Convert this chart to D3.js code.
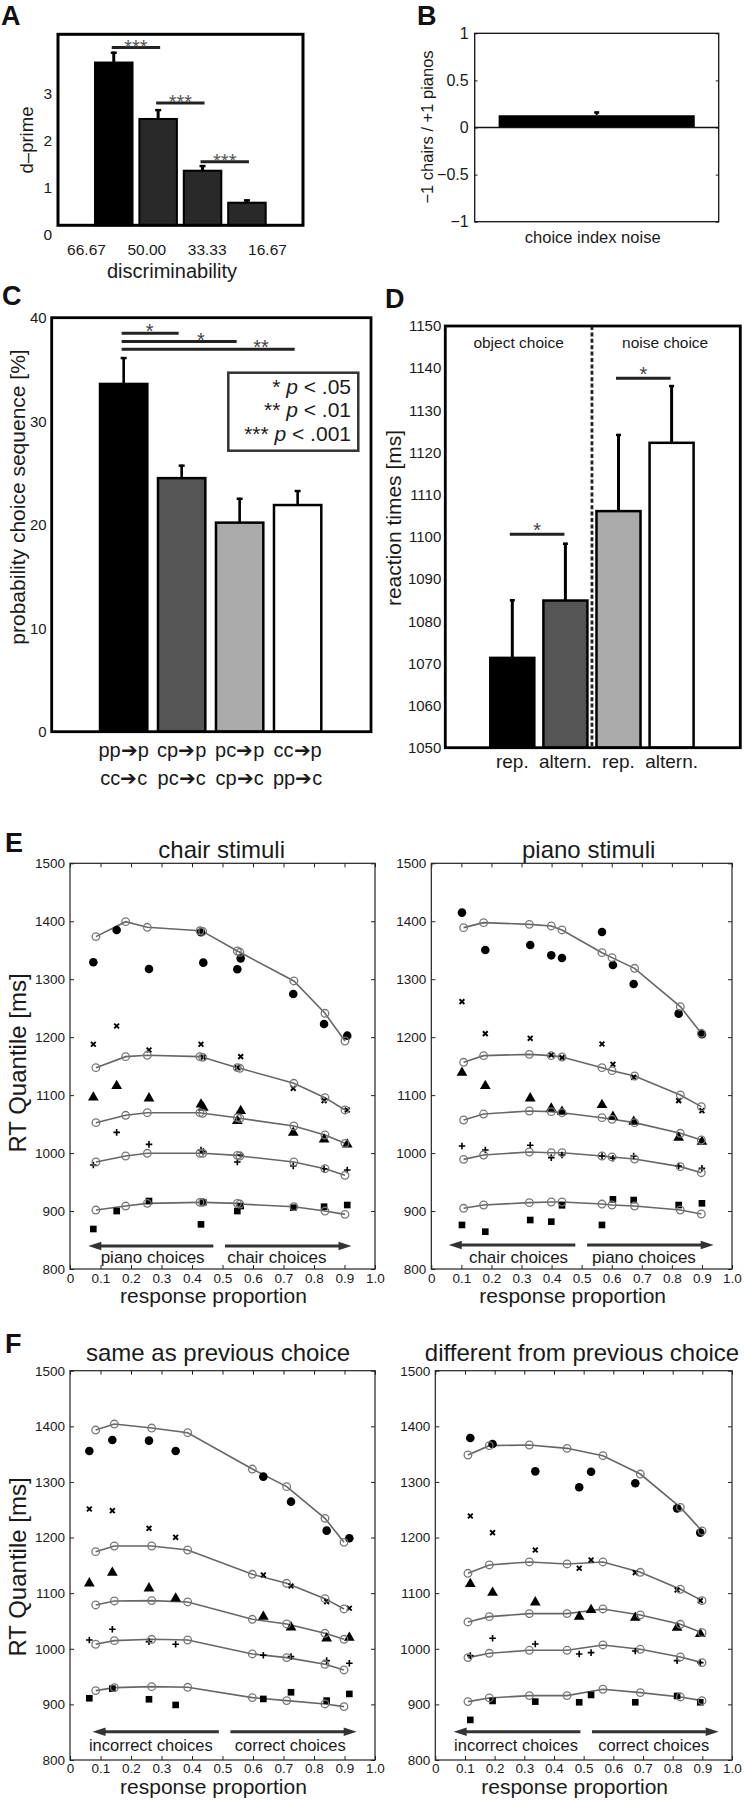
<!DOCTYPE html>
<html><head><meta charset="utf-8">
<script src="https://cdn.jsdelivr.net/npm/d3@7"></script>
<style>
body{margin:0;background:#fff}
svg{display:block}
</style></head><body>
<svg id="fig" width="744" height="1800"></svg>
<script>
// ---------------- Panel A ----------------
const aCategories = ["66.67", "50.00", "33.33", "16.67"];
const aValues = [3.66, 2.46, 1.36, 0.68];
const aErrors = [0.23, 0.21, 0.12, 0.07];
const aTicks = [0, 1, 2, 3];
const aSig = [[0, 1, 3.98], [1, 2, 2.80], [2, 3, 1.55]];

// ---------------- Panel B ----------------
const bCategories = ["choice index noise"];
const bValues = [0.13];
const bErrors = [0.04];
const bTicks = [-1, -0.5, 0, 0.5, 1];

// ---------------- Panel C ----------------
const cLabelsTop = ["pp➔p", "cp➔p", "pc➔p", "cc➔p"];
const cLabelsBottom = ["cc➔c", "pc➔c", "cp➔c", "pp➔c"];
const cValues = [33.6, 24.5, 20.2, 21.9];
const cErrors = [2.6, 1.3, 2.4, 1.45];
const cTicks = [0, 10, 20, 30, 40];
const cSig = [[0, 1, 38.5, "*", 0.45], [0, 2, 37.7, "*", 1.33], [0, 3, 36.95, "**", 2.37]];
const cLegendStars = ["*", "**", "***"];
const cLegendText = [" < .05", " < .01", " < .001"];

// ---------------- Panel D ----------------
const dConditions = ["object-rep", "object-alt", "noise-rep", "noise-alt"];
const dLabels = ["rep.", "altern.", "rep.", "altern."];
const dValues = [1071.3, 1084.9, 1106.1, 1122.3];
const dErrors = [13.9, 13.7, 18.3, 13.7];
const dTicks = [1050, 1060, 1070, 1080, 1090, 1100, 1110, 1120, 1130, 1140, 1150];
const dSig = [[0, 1, 1100.6], [2, 3, 1137.6]];
const dGroups = ["object choice", "noise choice"];

// ---------------- Panels E / F (quantile probability plots) ----------------
const qpYTicks = [800, 900, 1000, 1100, 1200, 1300, 1400, 1500];
const qpXTicks = [0, 0.1, 0.2, 0.3, 0.4, 0.5, 0.6, 0.7, 0.8, 0.9, 1.0];
// quantile order: .9 (circle), .7 (x), .5 (triangle), .3 (plus), .1 (square)

const eChairModelX = [0.085, 0.1825, 0.2535, 0.426, 0.435, 0.5486, 0.557, 0.734, 0.836, 0.9016];
const eChairModelQ9 = [1373.5, 1399.3, 1389.6, 1383.5, 1382.5, 1348.7, 1346.4, 1297, 1241.2, 1193.4];
const eChairModelQ7 = [1147.4, 1166.4, 1168.7, 1166.4, 1165.2, 1147.4, 1146.3, 1120.4, 1095.6, 1074.4];
const eChairModelQ5 = [1052.5, 1065.2, 1069.7, 1069.7, 1068.6, 1061.1, 1060, 1046.7, 1031.2, 1016.8];
const eChairModelQ3 = [984.6, 995, 999.6, 999.6, 999.6, 996.1, 995, 984.6, 973.1, 961.6];
const eChairModelQ1 = [901.7, 908.6, 913.3, 915, 915, 913.3, 912.1, 907.5, 900, 894.3];
const eChairDataX = [0.0765, 0.153, 0.259, 0.4295, 0.437, 0.5486, 0.5596, 0.732, 0.833, 0.909];
const eChairDataQ9 = [1329.2, 1385, 1317.7, 1381, 1328.6, 1317.1, 1336, 1274.5, 1222.8, 1202.6];
const eChairDataQ7 = [1187.7, 1219.3, 1177.9, 1187.7, 1165.2, 1147.4, 1166.4, 1111.7, 1090.5, 1074.4];
const eChairDataQ5 = [1096.2, 1115.8, 1094.5, 1084.1, 1078.4, 1055.4, 1072.6, 1035.2, 1023.7, 1015.1];
const eChairDataQ3 = [979.4, 1035.8, 1015.1, 1005.3, 1002.5, 984.6, 996.7, 977.7, 973.1, 970.8];
const eChairDataQ1 = [869, 900, 917.3, 877, 915, 900, 908.6, 905.8, 907.5, 910.4];

const ePianoModelX = [0.1075, 0.174, 0.326, 0.399, 0.4346, 0.5676, 0.601, 0.676, 0.828, 0.898];
const ePianoModelQ9 = [1389, 1397.6, 1394.7, 1391.9, 1385, 1345.8, 1337.2, 1318.8, 1252.7, 1206.7];
const ePianoModelQ7 = [1156.6, 1168.1, 1170.4, 1168.1, 1165.8, 1147.4, 1142.2, 1133, 1100.2, 1080.1];
const ePianoModelQ5 = [1057.1, 1067.4, 1072.6, 1071.5, 1069.7, 1061.1, 1058.3, 1052.5, 1034.1, 1022.6];
const ePianoModelQ3 = [989.2, 996.7, 1001.9, 1000.7, 1000.7, 995, 993.3, 989.8, 976.6, 966.2];
const ePianoModelQ1 = [904.7, 910.4, 914.5, 915.6, 915.6, 912.1, 910.4, 908.7, 901.8, 894.9];
const ePianoDataX = [0.102, 0.1796, 0.329, 0.399, 0.4346, 0.5676, 0.604, 0.673, 0.8226, 0.9];
const ePianoDataQ9 = [1414.9, 1350.4, 1359.1, 1341.2, 1336.6, 1381.5, 1324.6, 1291.8, 1240.6, 1205];
const ePianoDataQ7 = [1261.3, 1206.1, 1198, 1169.3, 1164.7, 1188.3, 1153.2, 1130.7, 1090.5, 1073.2];
const ePianoDataQ5 = [1138.8, 1115.8, 1094.5, 1077.2, 1071.5, 1083, 1062.8, 1054.2, 1026.6, 1019.7];
const ePianoDataQ3 = [1012.2, 1005.3, 1013.4, 992.1, 996.7, 995, 991, 995, 977.7, 973.7];
const ePianoDataQ1 = [876, 864.4, 884.5, 881.7, 909.9, 876, 920.2, 919, 910.4, 913.3];

const fSameModelX = [0.0842, 0.1454, 0.2678, 0.3858, 0.5978, 0.7104, 0.836, 0.8984];
const fSameModelQ9 = [1393.3, 1404.1, 1396.9, 1388.5, 1323.2, 1291.5, 1234.5, 1191.4];
const fSameModelQ7 = [1174.6, 1184.8, 1184.8, 1177.6, 1133.9, 1117.7, 1090.1, 1071.6];
const fSameModelQ5 = [1078.8, 1086, 1086.6, 1084.2, 1053, 1044.6, 1027.8, 1017];
const fSameModelQ3 = [1008.1, 1014.6, 1017, 1015.8, 990.7, 984.1, 972.1, 961.9];
const fSameModelQ1 = [924.8, 930.2, 931.9, 930.7, 912.2, 906.8, 900.8, 896];
const fSameDataX = [0.0634, 0.1388, 0.259, 0.3464, 0.6339, 0.7246, 0.8415, 0.9158];
const fSameDataQ9 = [1355.6, 1375.4, 1374.2, 1355.6, 1309.5, 1264.5, 1212.4, 1198.6];
const fSameDataQ7 = [1251.3, 1248.3, 1216.6, 1200.4, 1132.7, 1112.9, 1084.8, 1072.8];
const fSameDataQ5 = [1117.7, 1136.9, 1108.7, 1090.7, 1057.8, 1038.6, 1018.8, 1020];
const fSameDataQ3 = [1015.8, 1035, 1012.9, 1008.1, 988.3, 985.9, 978.7, 973.9];
const fSameDataQ1 = [911, 928.4, 909.2, 899, 909.8, 921.8, 906.8, 918.8];

const fDiffModelX = [0.110, 0.182, 0.317, 0.444, 0.565, 0.691, 0.826, 0.899];
const fDiffModelQ9 = [1348.4, 1365.2, 1366.4, 1360.4, 1347.2, 1314.2, 1254.3, 1211.8];
const fDiffModelQ7 = [1135.7, 1150.7, 1156.1, 1152.5, 1156.1, 1137.5, 1107, 1086.6];
const fDiffModelQ5 = [1048.2, 1057.8, 1063.2, 1063.2, 1071.6, 1060.8, 1044, 1029];
const fDiffModelQ3 = [984.1, 991.9, 997.3, 997.3, 1006.9, 999.1, 985.3, 975.1];
const fDiffModelQ1 = [905, 911.6, 915.8, 915.8, 927.2, 921.2, 913.4, 906.8];
const fDiffDataX = [0.118, 0.193, 0.337, 0.485, 0.525, 0.674, 0.815, 0.893];
const fDiffDataQ9 = [1379, 1368.2, 1319, 1290.3, 1318.4, 1297.5, 1252.5, 1208.8];
const fDiffDataQ7 = [1238.7, 1208.8, 1177.6, 1144.7, 1159.7, 1136.9, 1105.7, 1086.6];
const fDiffDataQ5 = [1116.5, 1100.9, 1083.6, 1057.8, 1069.8, 1056, 1038, 1026.6];
const fDiffDataQ3 = [987.7, 1018.8, 1008.7, 990.7, 993.1, 996.1, 978.7, 975.1];
const fDiffDataQ1 = [872.1, 906.2, 905, 903.8, 917, 903.8, 915.2, 903.8];

// ================= drawing =================
const FONT = '"Liberation Sans", Arial, Helvetica, sans-serif';
const INK = "#1a1a1a";
const svg = d3.select("#fig");
svg.append("rect").attr("width", 744).attr("height", 1800).attr("fill", "#fff");

function txt(g, t, x, y, size, anchor = "middle") {
  return g.append("text").attr("x", x).attr("y", y).attr("font-size", size)
    .attr("text-anchor", anchor).attr("font-family", FONT).attr("fill", INK).text(t);
}
function vtxt(g, t, x, y, size) {
  return g.append("text").attr("transform", `translate(${x},${y}) rotate(-90)`)
    .attr("dy", "0.35em").attr("font-size", size).attr("text-anchor", "middle")
    .attr("font-family", FONT).attr("fill", INK).text(t);
}
function letter(t, x, y) {
  svg.append("text").attr("x", x).attr("y", y).attr("font-size", 27).attr("font-weight", "bold")
    .attr("font-family", FONT).attr("fill", "#111").text(t);
}
function styleAxis(a, size) {
  a.select(".domain").remove();
  a.attr("font-family", FONT).attr("font-size", size);
  a.selectAll("text").attr("fill", INK);
  a.selectAll("line").attr("stroke", "#222");
  return a;
}
function hline(g, x1, x2, y, w, c) {
  return g.append("line").attr("x1", x1).attr("x2", x2).attr("y1", y).attr("y2", y).attr("stroke", c).attr("stroke-width", w);
}
function vline(g, x, y1, y2, w, c) {
  return g.append("line").attr("x1", x).attr("x2", x).attr("y1", y1).attr("y2", y2).attr("stroke", c).attr("stroke-width", w);
}

// ---------- A ----------
(function () {
  const g = svg.append("g");
  const L = 58, R = 303, T = 34.3;
  const y = d3.scaleLinear().domain([0, 4.26]).range([234.7, T]);
  const base = y(0.2);
  const x = d3.scaleBand().domain(aCategories).range([95, 265.7]).paddingInner(0.155).paddingOuter(0);
  const bw = x.bandwidth(), cx = c => x(c) + bw / 2;
  g.selectAll("rect.bar").data(aCategories).join("rect")
    .attr("x", c => x(c)).attr("y", (c, i) => y(aValues[i])).attr("width", bw)
    .attr("height", (c, i) => base - y(aValues[i]))
    .attr("fill", (c, i) => i === 0 ? "#000" : "#292929").attr("stroke", "#000").attr("stroke-width", 2);
  aCategories.forEach((c, i) => {
    const top = y(aValues[i] + aErrors[i]);
    vline(g, cx(c), y(aValues[i]), top, 3, "#000");
    hline(g, cx(c) - 3, cx(c) + 3, top + 1, 2.5, "#000");
  });
  aSig.forEach(([i, j, v]) => {
    const x1 = cx(aCategories[i]) - 2, x2 = cx(aCategories[j]) + 2;
    hline(g, x1, x2, y(v), 3, "#222");
    txt(g, "***", (x1 + x2) / 2, y(v) + 6.5, 20).attr("fill", "#555");
  });
  g.append("rect").attr("x", L).attr("y", T).attr("width", R - L).attr("height", base - T)
    .attr("fill", "none").attr("stroke", "#000").attr("stroke-width", 3);
  styleAxis(g.append("g").attr("transform", `translate(${L},0)`)
    .call(d3.axisLeft(y).tickValues(aTicks).tickSize(0).tickPadding(6).tickFormat(d3.format("d"))), 15.5);
  const lx = d3.scalePoint().domain(aCategories).range([86, 267]);
  styleAxis(g.append("g").attr("transform", `translate(0,${base})`)
    .call(d3.axisBottom(lx).tickSize(0).tickPadding(19)), 15.5);
  vtxt(g, "d–prime", 27, 140, 18.5);
  txt(g, "discriminability", 172, 278, 20);
})();
letter("A", 1, 25);

// ---------- B ----------
(function () {
  const g = svg.append("g");
  const L = 474.7, R = 718.7, T = 33.3, Bt = 221.7;
  const y = d3.scaleLinear().domain([-1, 1]).range([Bt, T]);
  const x = d3.scaleBand().domain(bCategories).range([L, R]).paddingInner(0).paddingOuter(0.122);
  const bw = x.bandwidth();
  g.selectAll("rect.bar").data(bCategories).join("rect")
    .attr("x", c => x(c)).attr("y", (c, i) => y(bValues[i])).attr("width", bw)
    .attr("height", (c, i) => y(0) - y(bValues[i])).attr("fill", "#000");
  bCategories.forEach((c, i) => {
    const cx = x(c) + bw / 2, top = y(bValues[i] + bErrors[i]);
    vline(g, cx, y(bValues[i]), top, 2, "#000");
    hline(g, cx - 2.5, cx + 2.5, top + 1, 2.5, "#000");
  });
  hline(g, L, R, y(0), 1.3, "#111");
  styleAxis(g.append("g").attr("transform", `translate(${L},0)`)
    .call(d3.axisLeft(y).tickValues(bTicks).tickSizeInner(-3).tickSizeOuter(0).tickPadding(6).tickFormat(d3.format("~g"))), 16);
  styleAxis(g.append("g").attr("transform", `translate(${R},0)`)
    .call(d3.axisRight(y).tickValues(bTicks).tickSizeInner(-3).tickSizeOuter(0).tickFormat("")), 16);
  g.append("rect").attr("x", L).attr("y", T).attr("width", R - L).attr("height", Bt - T)
    .attr("fill", "none").attr("stroke", "#111").attr("stroke-width", 1.3);
  vtxt(g, "−1 chairs / +1 pianos", 427, 127, 16.5);
  txt(g, "choice index noise", (L + R) / 2 - 4, 243, 16.5);
})();
letter("B", 417, 25);

// ---------- C ----------
(function () {
  const g = svg.append("g");
  const L = 51.7, R = 371, T = 317.7, Bt = 731.7;
  const y = d3.scaleLinear().domain([0, 40]).range([Bt, T]);
  const x = d3.scaleBand().domain(cLabelsTop).range([100, 321.3]).paddingInner(0.184).paddingOuter(0);
  const bw = x.bandwidth(), cx = c => x(c) + bw / 2;
  const fills = ["#000", "#555", "#aaa", "#fff"];
  g.selectAll("rect.bar").data(cLabelsTop).join("rect")
    .attr("x", c => x(c)).attr("y", (c, i) => y(cValues[i])).attr("width", bw)
    .attr("height", (c, i) => Bt - y(cValues[i]))
    .attr("fill", (c, i) => fills[i]).attr("stroke", "#000").attr("stroke-width", 2.5);
  cLabelsTop.forEach((c, i) => {
    const top = y(cValues[i] + cErrors[i]);
    vline(g, cx(c), y(cValues[i]), top, 2.6, "#000");
    hline(g, cx(c) - 3, cx(c) + 3, top + 1, 2.5, "#000");
  });
  const centerAt = f => { const i = Math.floor(f), k = f - i; return cx(cLabelsTop[i]) + k * (cx(cLabelsTop[i + 1]) - cx(cLabelsTop[i])); };
  cSig.forEach(([i, j, v, s, at]) => {
    hline(g, cx(cLabelsTop[i]) - 2, cx(cLabelsTop[j]) - 3, y(v), 2.8, "#222");
    txt(g, s, centerAt(at), y(v) + 5, 20).attr("fill", "#444");
  });
  g.append("rect").attr("x", L).attr("y", T).attr("width", R - L).attr("height", Bt - T)
    .attr("fill", "none").attr("stroke", "#000").attr("stroke-width", 2.8);
  styleAxis(g.append("g").attr("transform", `translate(${L},0)`)
    .call(d3.axisLeft(y).tickValues(cTicks).tickSize(0).tickPadding(5)), 15);
  // legend
  g.append("rect").attr("x", 228.3).attr("y", 372.7).attr("width", 130).attr("height", 78)
    .attr("fill", "#fff").attr("stroke", "#333").attr("stroke-width", 2.5);
  cLegendStars.forEach((s, i) => {
    const t = g.append("text").attr("x", 351).attr("y", 393.5 + i * 23.7).attr("text-anchor", "end")
      .attr("font-family", FONT).attr("font-size", 21).attr("fill", INK);
    t.append("tspan").text(s + " ");
    t.append("tspan").attr("font-style", "italic").text("p");
    t.append("tspan").text(cLegendText[i]);
  });
  cLabelsTop.forEach((c, i) => {
    txt(g, c, cx(c), 757, 20);
    txt(g, cLabelsBottom[i], cx(c), 785, 20);
  });
  vtxt(g, "probability choice sequence [%]", 18, 497, 21);
})();
letter("C", 2, 305);

// ---------- D ----------
(function () {
  const g = svg.append("g");
  const L = 445.3, R = 740.3, T = 326, Bt = 747.7;
  const y = d3.scaleLinear().domain([1050, 1150]).range([Bt, T]);
  const x = d3.scaleBand().domain(dConditions).range([490.3, 693.6]).paddingInner(0.171).paddingOuter(0);
  const bw = x.bandwidth(), cx = c => x(c) + bw / 2;
  const fills = ["#000", "#555", "#aaa", "#fff"];
  g.selectAll("rect.bar").data(dConditions).join("rect")
    .attr("x", c => x(c)).attr("y", (c, i) => y(dValues[i])).attr("width", bw)
    .attr("height", (c, i) => Bt - y(dValues[i]))
    .attr("fill", (c, i) => fills[i]).attr("stroke", "#000").attr("stroke-width", 2.5);
  dConditions.forEach((c, i) => {
    const top = y(dValues[i] + dErrors[i]);
    vline(g, cx(c), y(dValues[i]), top, 3, "#000");
    hline(g, cx(c) - 2.5, cx(c) + 2.5, top + 1, 2.5, "#000");
  });
  const sepX = (x(dConditions[1]) + bw + x(dConditions[2])) / 2;
  vline(g, sepX, T, Bt, 2.8, "#222").attr("stroke-dasharray", "4,2.4");
  dSig.forEach(([i, j, v]) => {
    const x1 = cx(dConditions[i]) - 2.5, x2 = cx(dConditions[j]) - 1;
    hline(g, x1, x2, y(v), 3, "#222");
    txt(g, "*", (x1 + x2) / 2, y(v) + 3, 20).attr("fill", "#444");
  });
  g.append("rect").attr("x", L).attr("y", T).attr("width", R - L).attr("height", Bt - T)
    .attr("fill", "none").attr("stroke", "#000").attr("stroke-width", 2.8);
  styleAxis(g.append("g").attr("transform", `translate(${L},0)`)
    .call(d3.axisLeft(y).tickValues(dTicks).tickSize(0).tickPadding(4).tickFormat(d3.format("d"))), 15);
  styleAxis(g.append("g").attr("transform", `translate(0,${Bt})`)
    .call(d3.axisBottom(x).tickSize(0).tickPadding(7).tickFormat((d, i) => dLabels[i])), 19);
  txt(g, dGroups[0], (L + sepX) / 2 + 0, 348.3, 15.5);
  txt(g, dGroups[1], (sepX + R) / 2 - 1, 348.3, 15.5);
  vtxt(g, "reaction times [ms]", 393.7, 518, 21);
})();
letter("D", 385, 308);

// ---------- E / F quantile probability panels ----------
function qpPanel(o) {
  const g = svg.append("g");
  const x = d3.scaleLinear().domain([0, 1]).range([o.left, o.right]);
  const y = d3.scaleLinear().domain([800, 1500]).range([o.bottom, o.top]);
  const put = (axis, tx, ty) => styleAxis(g.append("g").attr("transform", `translate(${tx},${ty})`).call(axis), 13.5);
  put(d3.axisLeft(y).tickValues(qpYTicks).tickSizeInner(-4).tickSizeOuter(0).tickPadding(5).tickFormat(d3.format("d")), o.left, 0);
  put(d3.axisRight(y).tickValues(qpYTicks).tickSizeInner(-4).tickSizeOuter(0).tickFormat(""), o.right, 0);
  put(d3.axisBottom(x).tickValues(qpXTicks).tickSizeInner(-4).tickSizeOuter(0).tickPadding(o.xPad)
    .tickFormat(d => d === 0 ? "0" : d.toFixed(1)), 0, o.bottom);
  put(d3.axisTop(x).tickValues(qpXTicks).tickSizeInner(-4).tickSizeOuter(0).tickFormat(""), 0, o.top);
  g.append("rect").attr("x", o.left).attr("y", o.top).attr("width", o.right - o.left).attr("height", o.bottom - o.top)
    .attr("fill", "none").attr("stroke", "#222").attr("stroke-width", 1.2);

  const line = d3.line().x((d, i) => x(o.modelX[i])).y(d => y(d));
  o.modelQ.forEach(q => g.append("path").attr("d", line(q)).attr("fill", "none").attr("stroke", "#666").attr("stroke-width", 1.6));

  const shapes = [
    d3.symbol().type(d3.symbolCircle).size(58)(),
    "M-2.4,-2.4L2.4,2.4M-2.4,2.4L2.4,-2.4",
    d3.symbol().type(d3.symbolTriangle).size(50)(),
    "M-3.3,0H3.3M0,-3.3V3.3",
    d3.symbol().type(d3.symbolSquare).size(44)()
  ];
  o.dataQ.forEach((q, k) => {
    const stroked = (k === 1 || k === 3);
    g.selectAll(null).data(q).join("path")
      .attr("transform", (d, i) => `translate(${x(o.dataX[i])},${y(d)})`)
      .attr("d", shapes[k])
      .attr("fill", stroked ? "none" : "#000")
      .attr("stroke", stroked ? "#000" : "none")
      .attr("stroke-width", k === 1 ? 1.9 : 1.6);
  });
  o.modelQ.forEach(q => g.selectAll(null).data(q).join("circle")
    .attr("cx", (d, i) => x(o.modelX[i])).attr("cy", d => y(d)).attr("r", 3.8)
    .attr("fill", "none").attr("stroke", "#777").attr("stroke-width", 1.3));

  // arrows + annotation
  o.arrows.forEach(([a, b]) => {
    const x1 = x(a), x2 = x(b), yy = y(o.arrowY), dir = Math.sign(x2 - x1);
    hline(g, x1, x2 - dir * 9, yy, 3, "#333");
    g.append("path").attr("d", `M${x2},${yy}L${x2 - dir * 13},${yy - 4.2}L${x2 - dir * 13},${yy + 4.2}Z`).attr("fill", "#333");
  });
  o.arrowText.forEach(([t, p]) => txt(g, t, x(p), y(o.textY), o.textSize));
  txt(g, o.title, o.titleX, o.titleY, 24);
  txt(g, "response proportion", (o.left + o.right) / 2 - 9, o.xLabelY, 21);
  if (o.yLabel) vtxt(g, "RT Quantile [ms]", 18, o.yLabelY, 24);
}

qpPanel({
  left: 70, right: 375, top: 863.3, bottom: 1269, xPad: 4.5,
  modelX: eChairModelX, modelQ: [eChairModelQ9, eChairModelQ7, eChairModelQ5, eChairModelQ3, eChairModelQ1],
  dataX: eChairDataX, dataQ: [eChairDataQ9, eChairDataQ7, eChairDataQ5, eChairDataQ3, eChairDataQ1],
  arrows: [[0.47, 0.06], [0.508, 0.923]], arrowY: 839.7,
  arrowText: [["piano choices", 0.271], ["chair choices", 0.678]], textY: 810.4, textSize: 17,
  title: "chair stimuli", titleX: 221.7, titleY: 858, xLabelY: 1303, yLabel: true, yLabelY: 1063
});
qpPanel({
  left: 431.3, right: 732, top: 863.3, bottom: 1269, xPad: 4.5,
  modelX: ePianoModelX, modelQ: [ePianoModelQ9, ePianoModelQ7, ePianoModelQ5, ePianoModelQ3, ePianoModelQ1],
  dataX: ePianoDataX, dataQ: [ePianoDataQ9, ePianoDataQ7, ePianoDataQ5, ePianoDataQ3, ePianoDataQ1],
  arrows: [[0.479, 0.058], [0.518, 0.939]], arrowY: 841.4,
  arrowText: [["chair choices", 0.29], ["piano choices", 0.707]], textY: 810.4, textSize: 17,
  title: "piano stimuli", titleX: 588.7, titleY: 858, xLabelY: 1303, yLabel: false
});
qpPanel({
  left: 70, right: 375, top: 1370.7, bottom: 1760, xPad: 3.5,
  modelX: fSameModelX, modelQ: [fSameModelQ9, fSameModelQ7, fSameModelQ5, fSameModelQ3, fSameModelQ1],
  dataX: fSameDataX, dataQ: [fSameDataQ9, fSameDataQ7, fSameDataQ5, fSameDataQ3, fSameDataQ1],
  arrows: [[0.488, 0.074], [0.526, 0.94]], arrowY: 850.8,
  arrowText: [["incorrect choices", 0.265], ["correct choices", 0.722]], textY: 816.7, textSize: 16.5,
  title: "same as previous choice", titleX: 218, titleY: 1361, xLabelY: 1794, yLabel: true, yLabelY: 1567
});
qpPanel({
  left: 435.3, right: 732, top: 1370.7, bottom: 1760, xPad: 3.5,
  modelX: fDiffModelX, modelQ: [fDiffModelQ9, fDiffModelQ7, fDiffModelQ5, fDiffModelQ3, fDiffModelQ1],
  dataX: fDiffDataX, dataQ: [fDiffDataQ9, fDiffDataQ7, fDiffDataQ5, fDiffDataQ3, fDiffDataQ1],
  arrows: [[0.489, 0.062], [0.528, 0.955]], arrowY: 850.8,
  arrowText: [["incorrect choices", 0.272], ["correct choices", 0.736]], textY: 816.7, textSize: 16.5,
  title: "different from previous choice", titleX: 582, titleY: 1361, xLabelY: 1794, yLabel: false
});
letter("E", 5, 852);
letter("F", 5, 1353);
</script>
</body></html>
